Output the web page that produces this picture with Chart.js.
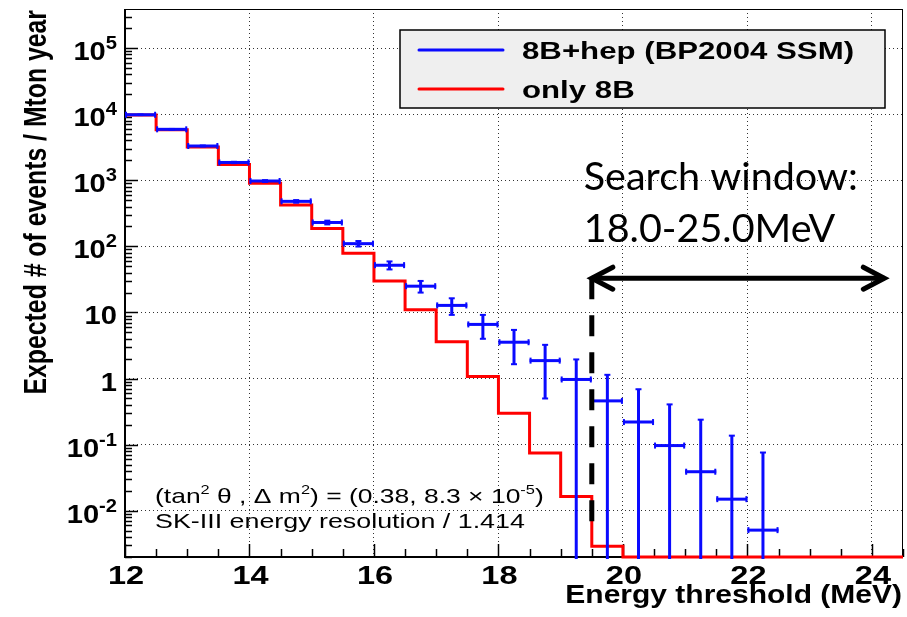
<!DOCTYPE html>
<html>
<head>
<meta charset="utf-8">
<script src="https://cdn.jsdelivr.net/npm/chart.js@4.4.1/dist/chart.umd.min.js"></script>
<style>
  html, body { margin: 0; padding: 0; background: #fff; }
  #wrap { width: 907px; height: 617px; }
</style>
</head>
<body>
<div id="wrap"><canvas id="c" width="907" height="617"></canvas></div>
<script>
// energy threshold bins (MeV), 0.5 MeV wide
const binEdges = [12, 12.5, 13, 13.5, 14, 14.5, 15, 15.5, 16, 16.5, 17, 17.5, 18,
                  18.5, 19, 19.5, 20, 20.5, 21, 21.5, 22, 22.5, 23, 23.5, 24, 24.5];
// expected events / Mton year, only 8B
const only8B = [9700, 5800, 3200, 1730, 900, 423, 187, 79, 30, 11, 3.6, 1.08, 0.30,
                0.075, 0.0165, 0.0029, 0, 0, 0, 0, 0, 0, 0, 0, 0];
// 8B+hep (BP2004 SSM) and its errors
const withHep = [9800, 5900, 3300, 1860, 975, 480, 230, 110, 52, 25, 12.8, 6.6, 3.55,
                 1.87, 0.97, 0.46, 0.22, 0.097, 0.039, 0.015, 0.0051, null, null, null, null];
const withHepErr = [99, 77, 57, 43, 31, 22, 15, 10.5, 7.2, 5.0, 3.6, 2.6, 1.9,
                    1.37, 0.98, 0.68, 0.47, 0.31, 0.20, 0.122, 0.071, null, null, null, null];

const xTicks = [12, 14, 16, 18, 20, 22, 24];
const yDecades = [-2, -1, 0, 1, 2, 3, 4, 5];
const seriesNames = ['8B+hep (BP2004 SSM)', 'only 8B'];

const X_MIN = 12, X_MAX = 24.5;
const Y_MIN = 0.002, Y_MAX = 3.9e5;
const BLUE = '#0a0aff', RED = '#ff0000';
const ROOT_FONT = '"Liberation Sans", Arial, Helvetica, sans-serif';
const SX = 1.3; // wide labels

function putText(ctx, str, x, y, font, align, sx) {
  ctx.save();
  ctx.font = font;
  ctx.textBaseline = 'alphabetic';
  ctx.textAlign = 'left';
  const w = ctx.measureText(str).width * sx;
  const x0 = align === 'center' ? x - w / 2 : align === 'right' ? x - w : x;
  ctx.translate(x0, y);
  ctx.scale(sx, 1);
  ctx.fillText(str, 0, 0);
  ctx.restore();
  return w;
}

// runs: [text, isSuperscript]
function richText(ctx, runs, x, y, size, weight, sx, align, supScale) {
  const k = supScale || 0.68;
  const fontFor = sup => weight + ' ' + Math.round(sup ? size * k : size) + 'px ' + ROOT_FONT;
  let total = 0;
  runs.forEach(([t, sup]) => { ctx.font = fontFor(sup); total += ctx.measureText(t).width * sx; });
  let cx = align === 'right' ? x - total : x;
  runs.forEach(([t, sup]) => {
    cx += putText(ctx, t, cx, sup ? y - size * 0.42 : y, fontFor(sup), 'left', sx);
  });
}

function line(ctx, x0, y0, x1, y1) {
  ctx.beginPath(); ctx.moveTo(x0, y0); ctx.lineTo(x1, y1); ctx.stroke();
}

const decor = {
  id: 'decor',
  beforeDatasetsDraw(chart) {
    const { ctx, chartArea: a, scales: { x, y } } = chart;
    ctx.save();
    // frame
    ctx.strokeStyle = '#000';
    ctx.lineWidth = 1;
    line(ctx, a.left, a.top + 0.5, a.right, a.top + 0.5);
    line(ctx, a.right - 0.5, a.top, a.right - 0.5, a.bottom);
    ctx.lineWidth = 2;
    line(ctx, a.left, a.bottom, a.right, a.bottom);
    line(ctx, a.left, a.top, a.left, a.bottom + 1);
    // x ticks every 0.5 MeV
    ctx.lineWidth = 1.5;
    for (let v = X_MIN; v <= X_MAX + 1e-9; v += 0.5) {
      const px = Math.round(x.getPixelForValue(v)) + 0.5;
      const len = xTicks.includes(v) ? 13 : 8;
      line(ctx, px, a.bottom, px, a.bottom - len);
    }
    // y ticks on log axis
    yDecades.concat([-3]).forEach(k => {
      for (let m = 1; m <= 9; m++) {
        const v = m * Math.pow(10, k);
        if (v < Y_MIN || v > Y_MAX) continue;
        const py = Math.round(y.getPixelForValue(v)) + 0.5;
        line(ctx, a.left, py, a.left + (m === 1 ? 13 : 7), py);
      }
    });
    ctx.restore();
  },
  afterDatasetsDraw(chart) {
    const { ctx, chartArea: a, scales: { x, y } } = chart;
    ctx.save();

    // 8B+hep points with error bars
    ctx.beginPath();
    ctx.rect(a.left, a.top, a.width, a.height + 2);
    ctx.clip();
    ctx.strokeStyle = BLUE;
    withHep.forEach((v, i) => {
      if (v == null) return;
      const x0 = x.getPixelForValue(binEdges[i]);
      const x1 = x.getPixelForValue(binEdges[i + 1]);
      const xc = (x0 + x1) / 2;
      const yc = y.getPixelForValue(v);
      const lo = v - withHepErr[i];
      const yHi = y.getPixelForValue(v + withHepErr[i]);
      const yLo = lo > 0 ? y.getPixelForValue(lo) : a.bottom + 5;
      ctx.lineWidth = 3;
      line(ctx, x0, yc, x1, yc);
      line(ctx, xc, yLo, xc, yHi);
      ctx.lineWidth = 2;
      line(ctx, x0 + 1, yc - 3, x0 + 1, yc + 3);
      line(ctx, x1 - 1, yc - 3, x1 - 1, yc + 3);
      line(ctx, xc - 3, yHi, xc + 3, yHi);
      if (lo > 0) line(ctx, xc - 3, yLo, xc + 3, yLo);
    });
    ctx.restore();

    // search window marker
    ctx.save();
    const ax0 = x.getPixelForValue(19.5), ax1 = x.getPixelForValue(24.2);
    const ay = y.getPixelForValue(33);
    ctx.strokeStyle = '#000';
    ctx.lineWidth = 5;
    ctx.setLineDash([21, 16]);
    line(ctx, ax0, ay, ax0, y.getPixelForValue(0.0065));
    ctx.setLineDash([]);
    line(ctx, ax0, ay, ax1, ay);
    ctx.lineCap = 'round';
    ctx.lineJoin = 'miter';
    ctx.beginPath();
    ctx.moveTo(ax1 - 21, ay - 11); ctx.lineTo(ax1, ay); ctx.lineTo(ax1 - 21, ay + 11);
    ctx.stroke();
    ctx.beginPath();
    ctx.moveTo(ax0 + 21, ay - 11); ctx.lineTo(ax0, ay); ctx.lineTo(ax0 + 21, ay + 11);
    ctx.stroke();
    ctx.fillStyle = '#000';
    putText(ctx, 'Search window:', ax0 - 8, ay - 88, '39.5px Lato, "Open Sans", sans-serif', 'left', 1);
    putText(ctx, '18.0-25.0MeV', ax0 - 8, ay - 36, '39.5px Lato, "Open Sans", sans-serif', 'left', 1);

    // oscillation parameters
    richText(ctx, [['(tan', false], ['2', true], [' \u03b8 , \u0394 m', false], ['2', true],
                   [') = (0.38, 8.3 \u00d7 10', false], ['-5', true], [')', false]],
             a.left + 30, 503, 20.8, 'normal', 1.26, 'left', 0.62);
    putText(ctx, 'SK-III energy resolution / 1.414', a.left + 30, 528,
            '20.8px ' + ROOT_FONT, 'left', 1.29);

    // legend
    const lx = 400, ly = 30, lw = 485, lh = 78;
    ctx.fillStyle = '#efefef';
    ctx.fillRect(lx, ly, lw, lh);
    ctx.strokeStyle = '#000';
    ctx.lineWidth = 1.5;
    ctx.strokeRect(lx, ly, lw, lh);
    [BLUE, RED].forEach((c, i) => {
      const ry = ly + 20 + i * 39;
      ctx.strokeStyle = c;
      ctx.lineWidth = 3;
      line(ctx, lx + 19, ry, lx + 103, ry);
      ctx.fillStyle = '#000';
      putText(ctx, seriesNames[i], lx + 122, ry + 9, 'bold 24px ' + ROOT_FONT, 'left', SX);
    });

    // axis labels
    ctx.fillStyle = '#000';
    xTicks.forEach(v => {
      putText(ctx, String(v), x.getPixelForValue(v) + 1, 584, 'bold 25px ' + ROOT_FONT, 'center', SX);
    });
    yDecades.forEach(k => {
      const py = y.getPixelForValue(Math.pow(10, k));
      const runs = k === 0 ? [['1', false]] : k === 1 ? [['10', false]]
                 : [['10', false], [String(k), true]];
      richText(ctx, runs, a.left - 8, py + 12, 26, 'bold', 1.12, 'right');
    });
    putText(ctx, 'Energy threshold (MeV)', a.right - 1, 603, 'bold 25px ' + ROOT_FONT, 'right', 1.2);

    ctx.save();
    ctx.translate(46, a.top + 1);
    ctx.scale(1.25, 1);
    ctx.rotate(-Math.PI / 2);
    ctx.font = 'bold 24.8px ' + ROOT_FONT;
    ctx.textAlign = 'right';
    ctx.textBaseline = 'alphabetic';
    ctx.fillText('Expected # of events / Mton year', 0, 0);
    ctx.restore();

    ctx.restore();
  }
};

new Chart(document.getElementById('c'), {
  type: 'line',
  data: {
    datasets: [{
      label: seriesNames[1],
      data: binEdges.map((e, i) => ({ x: e, y: Math.max(only8B[Math.min(i, only8B.length - 1)], Y_MIN) })),
      stepped: 'before',
      borderColor: RED,
      borderWidth: 3,
      pointRadius: 0,
      fill: false,
      clip: 4
    }]
  },
  options: {
    responsive: false,
    animation: false,
    devicePixelRatio: 1,
    layout: { padding: { left: 125, right: 4, top: 9, bottom: 60 } },
    plugins: { legend: { display: false }, tooltip: { enabled: false } },
    scales: {
      x: {
        type: 'linear', min: X_MIN, max: X_MAX,
        afterBuildTicks: s => { s.ticks = xTicks.map(v => ({ value: v })); },
        afterFit: s => { s.height = 0; },
        ticks: { display: false },
        grid: { color: '#333', lineWidth: 1, drawTicks: false },
        border: { display: false, dash: [1, 3] }
      },
      y: {
        type: 'logarithmic', min: Y_MIN, max: Y_MAX,
        afterBuildTicks: s => { s.ticks = yDecades.map(k => ({ value: Math.pow(10, k) })); },
        afterFit: s => { s.width = 0; },
        ticks: { display: false },
        grid: { color: '#333', lineWidth: 1, drawTicks: false },
        border: { display: false, dash: [1, 3] }
      }
    }
  },
  plugins: [decor]
});
</script>
</body>
</html>
